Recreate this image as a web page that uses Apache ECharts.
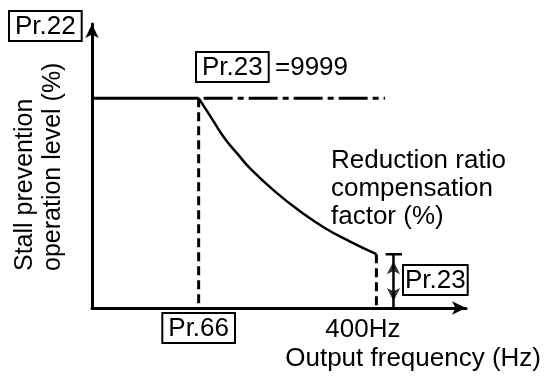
<!DOCTYPE html>
<html>
<head>
<meta charset="utf-8">
<script src="https://cdn.jsdelivr.net/npm/echarts@6/dist/echarts.min.js"></script>
<style>
  html, body { margin: 0; padding: 0; background: #fff; }
  #chart { width: 546px; height: 384px; }
</style>
</head>
<body>
<div id="chart"></div>
<script>
const FONT = '"Liberation Sans", Arial, Helvetica, sans-serif';
const FS = 26;

// Axis ranges: output frequency (Hz) and stall prevention level (%)
const freqMax = 526;
const levelMax = 203;

// Characteristic points
const pr22Level = 150;      // Pr.22 stall prevention operation level
const pr66Freq = 150;       // Pr.66 reduction starting frequency
const highFreq = 400;       // 400Hz
const pr23Level = 38.5;     // level reached at 400Hz
const flatEndFreq = 412;    // end of the Pr.23 = 9999 line

// Reduction curve above Pr.66
const curveFreq  = [150, 169, 187, 205, 222, 258, 293, 328, 363, 400];
const curveLevel = [150, 135, 121, 110, 100,  83,  69,  57, 47.5, 38.5];

// Dimension arrow for Pr.23
const pr23ArrowFreq = 424;
const pr23CapFreq = [413, 436];

// Tick labels on the frequency axis
const xTickValues = [150, 400];
const xTickLabels = ['{box|Pr.66}', '{hz|400Hz}'];

const black = '#000';
const solid = (w) => ({ color: black, width: w });
const font = FS + 'px ' + FONT;

const chart = echarts.init(document.getElementById('chart'), null, { renderer: 'canvas' });

const option = {
  backgroundColor: '#fff',
  animation: false,
  grid: { left: 92, right: 80, top: 24, bottom: 76 },
  xAxis: {
    type: 'value',
    min: 0,
    max: freqMax,
    interval: 50,
    axisLine: { show: true, lineStyle: solid(3), symbol: ['none', 'arrow'], symbolSize: [10, 14] },
    axisTick: { show: false },
    splitLine: { show: false },
    axisLabel: {
      margin: 5,
      showMinLabel: false,
      showMaxLabel: false,
      formatter: (v) => {
        const i = xTickValues.indexOf(v);
        return i >= 0 ? xTickLabels[i] : '';
      },
      rich: {
        box: { color: black, fontFamily: FONT, fontSize: FS, borderColor: black, borderWidth: 2, padding: [3, 6, 1, 6] },
        hz: { color: black, fontFamily: FONT, fontSize: FS, padding: [4, 27, 0, 0] }
      }
    }
  },
  yAxis: {
    type: 'value',
    min: 0,
    max: levelMax,
    axisLine: { show: true, lineStyle: solid(3), symbol: ['none', 'arrow'], symbolSize: [10, 14] },
    axisTick: { show: false },
    axisLabel: { show: false },
    splitLine: { show: false }
  },
  series: [
    {
      // constant level up to Pr.66
      type: 'line', symbol: 'none', silent: true,
      lineStyle: solid(3),
      data: [[0, pr22Level], [pr66Freq, pr22Level]]
    },
    {
      // Pr.23 = 9999: level kept constant
      type: 'line', symbol: 'none', silent: true,
      lineStyle: { color: black, width: 3, type: [29, 5, 6, 5], dashOffset: 40 },
      data: [[pr66Freq, pr22Level], [flatEndFreq, pr22Level]]
    },
    {
      // reduction curve
      type: 'line', symbol: 'none', silent: true, smooth: true,
      lineStyle: solid(2.5),
      data: curveFreq.map((f, i) => [f, curveLevel[i]])
    },
    {
      type: 'line', symbol: 'none', silent: true,
      lineStyle: { color: black, width: 3, type: [9, 5] },
      data: [[pr66Freq, pr22Level], [pr66Freq, 0]]
    },
    {
      type: 'line', symbol: 'none', silent: true,
      lineStyle: { color: black, width: 3, type: [9, 5] },
      data: [[highFreq, pr23Level], [highFreq, 0]]
    },
    {
      // dimension arrow shaft
      type: 'line', symbol: 'none', silent: true,
      lineStyle: solid(2.5),
      data: [[pr23ArrowFreq, pr23Level], [pr23ArrowFreq, 0]]
    },
    {
      // dimension arrow cap
      type: 'line', symbol: 'none', silent: true,
      lineStyle: solid(2.5),
      data: [[pr23CapFreq[0], pr23Level], [pr23CapFreq[1], pr23Level]]
    },
    {
      // arrow heads
      type: 'scatter', silent: true,
      itemStyle: { color: black },
      symbol: 'arrow',
      symbolSize: [10, 13],
      data: [
        { value: [pr23ArrowFreq, pr23Level], symbolOffset: [0, 7], symbolRotate: 0 },
        { value: [pr23ArrowFreq, 0], symbolOffset: [0, -7], symbolRotate: 180 }
      ]
    }
  ]
};

chart.setOption(option);

// Boxed parameter labels, anchored to the chart's data positions
const boxStyle = (text, padX) => ({
  text: text, font: font, fill: black,
  borderColor: black, borderWidth: 2, padding: [3, padX, 1, padX]
});
const toPx = (pt) => chart.convertToPixel({ gridIndex: 0 }, pt).map(Math.round);
const knee = toPx([pr66Freq, pr22Level]);
const arrowMid = toPx([pr23ArrowFreq, pr23Level / 2]);

chart.setOption({
  graphic: [
    {
      type: 'text', left: 8, top: 10, silent: true,
      style: boxStyle('Pr.22', 6)
    },
    {
      type: 'text', x: knee[0] - 3, y: knee[1] - 46, silent: true,
      style: boxStyle('Pr.23', 6)
    },
    {
      type: 'text', x: knee[0] + 76, y: knee[1] - 43, silent: true,
      style: { text: '=9999', font: font, fill: black }
    },
    {
      type: 'text', x: arrowMid[0] + 10, y: arrowMid[1] - 16, silent: true,
      style: boxStyle('Pr.23', 2)
    },
    {
      type: 'text', x: 39, y: 271, rotation: Math.PI / 2, silent: true,
      style: {
        text: 'Stall prevention\noperation level (%)', font: '25px ' + FONT, fill: black,
        align: 'left', verticalAlign: 'middle', textAlign: 'left', textVerticalAlign: 'middle', lineHeight: 28
      }
    },
    {
      type: 'text', left: 331, top: 147, silent: true,
      style: { text: 'Reduction ratio\ncompensation\nfactor (%)', font: font, fill: black, lineHeight: 28 }
    },
    {
      type: 'text', right: 5, top: 346, silent: true,
      style: { text: 'Output frequency (Hz)', font: font, fill: black }
    }
  ]
});
</script>
</body>
</html>
